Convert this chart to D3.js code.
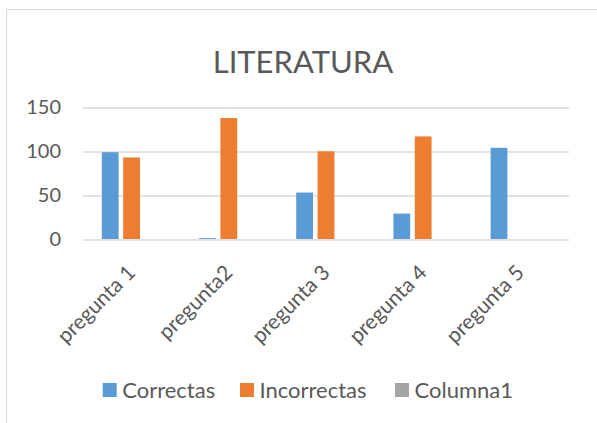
<!DOCTYPE html>
<html>
<head>
<meta charset="utf-8">
<script src="https://cdn.jsdelivr.net/npm/d3@7"></script>
<style>
  body { margin: 0; background: #fff; }
  text { font-family: Lato, "Open Sans", sans-serif; }
</style>
</head>
<body>
<div id="chart"></div>
<script>
// data
var categories = ["pregunta 1", "pregunta2", "pregunta 3", "pregunta 4", "pregunta 5"];
var seriesNames = ["Correctas", "Incorrectas", "Columna1"];
var correctas   = [99, 1, 53, 29, 104];
var incorrectas = [93, 138, 100, 117, 0];
var columna1    = [0, 0, 0, 0, 0];
var yTicks = [0, 50, 100, 150];

var colors = { "Correctas": "#5B9BD5", "Incorrectas": "#ED7D31", "Columna1": "#A5A5A5" };

var width = 597, height = 423;
var margin = {top: 107.5, right: 28, bottom: 184, left: 83};

var svg = d3.select("#chart")
  .append("svg")
    .attr("width", width)
    .attr("height", height);

// chart area border
svg.append("rect")
  .attr("x", 6.5).attr("y", 9.5)
  .attr("width", width).attr("height", height)
  .attr("fill", "none")
  .attr("stroke", "#D9D9D9");

// title
svg.append("text")
  .attr("x", 303).attr("y", 72.7)
  .attr("text-anchor", "middle")
  .style("font-size", "31px")
  .style("fill", "#595959")
  .text("LITERATURA");

var plotW = width - margin.left - margin.right,
    plotH = height - margin.top - margin.bottom;

var g = svg.append("g")
  .attr("transform", "translate(" + margin.left + "," + margin.top + ")");

// scales
var x0 = d3.scaleBand()
  .domain(categories)
  .range([0, plotW])
  .paddingInner(0.387)
  .paddingOuter(0.387 / 2);

var x1 = d3.scaleBand()
  .domain(seriesNames)
  .range([0, x0.bandwidth()])
  .paddingInner(0.215);

var y = d3.scaleLinear()
  .domain([0, 150])
  .range([plotH, 0]);

// gridlines
g.selectAll(".grid")
  .data(yTicks)
  .enter().append("line")
    .attr("x1", 0).attr("x2", plotW)
    .attr("y1", function(d) { return Math.round(y(d)) + 0.5; })
    .attr("y2", function(d) { return Math.round(y(d)) + 0.5; })
    .attr("stroke", "#D9D9D9")
    .attr("stroke-width", 1.5);

// y axis labels
var yAxis = g.append("g")
  .call(d3.axisLeft(y).tickValues(yTicks).tickSize(0).tickPadding(22));
yAxis.select(".domain").remove();
yAxis.selectAll("text")
  .style("font-family", "Lato, sans-serif")
  .style("font-size", "20px")
  .style("fill", "#595959");

// bars
var rows = categories.map(function(c, i) {
  return { cat: c, values: [
    { name: "Correctas", value: correctas[i] },
    { name: "Incorrectas", value: incorrectas[i] },
    { name: "Columna1", value: columna1[i] }
  ]};
});

g.selectAll(".group")
  .data(rows)
  .enter().append("g")
    .attr("transform", function(d) { return "translate(" + x0(d.cat) + ",0)"; })
  .selectAll("rect")
  .data(function(d) { return d.values; })
  .enter().append("rect")
    .attr("x", function(d) { return x1(d.name); })
    .attr("y", function(d) { return y(d.value); })
    .attr("width", x1.bandwidth())
    .attr("height", function(d) { return plotH - y(d.value); })
    .attr("fill", function(d) { return colors[d.name]; });

// x axis labels, rotated
var xAxis = g.append("g")
  .attr("transform", "translate(0," + plotH + ")")
  .call(d3.axisBottom(x0).tickSize(0).tickPadding(0));
xAxis.select(".domain").remove();
xAxis.selectAll("text")
  .attr("text-anchor", "end")
  .attr("dy", 0)
  .attr("y", 0)
  .attr("transform", "translate(5,35) rotate(-45)")
  .style("font-family", "Lato, sans-serif")
  .style("font-size", "21px")
  .style("fill", "#595959");

// legend
var legendX = [102.7, 240, 395];
var legend = svg.selectAll(".legend")
  .data(seriesNames)
  .enter().append("g")
    .attr("transform", function(d, i) { return "translate(" + legendX[i] + ",383)"; });
legend.append("rect")
  .attr("width", 14).attr("height", 14)
  .attr("fill", function(d) { return colors[d]; });
legend.append("text")
  .attr("x", 19.5).attr("y", 7)
  .attr("dy", "0.35em")
  .style("font-size", "22px")
  .style("fill", "#595959")
  .text(function(d) { return d; });
</script>
</body>
</html>
